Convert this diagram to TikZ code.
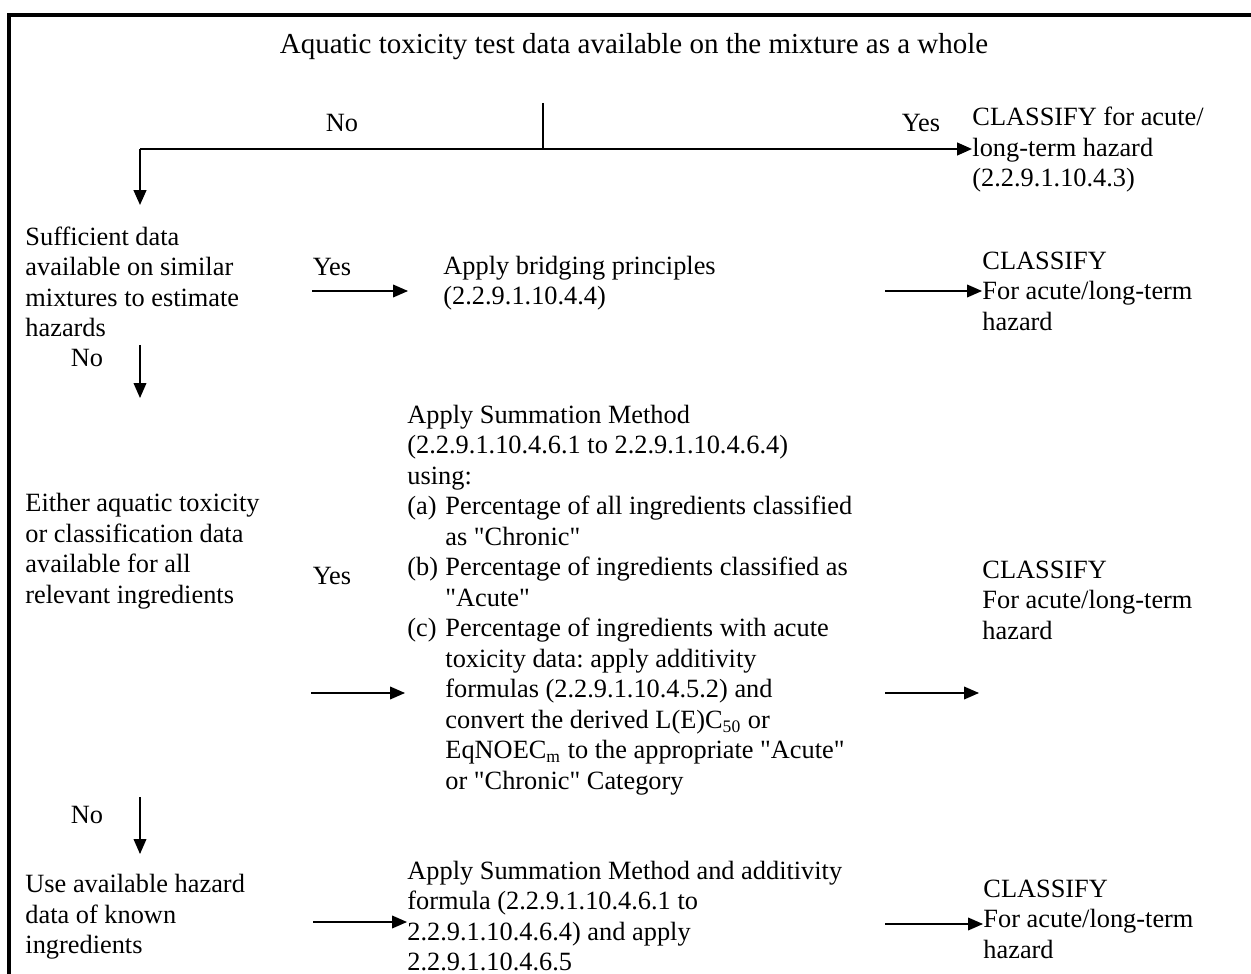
\documentclass[tikz,border=0pt]{standalone}
\usepackage{fontspec}
\setmainfont{Liberation Serif}
\usetikzlibrary{arrows.meta, positioning}

\newcommand{\itemlab}[1]{\makebox[17.3pt][l]{#1}}
\newcommand{\contind}{\hspace*{17.3pt}}
\newcommand{\qq}[1]{\textquotedbl#1\textquotedbl}

\begin{document}
\frenchspacing
\begin{tikzpicture}[x=0.4554pt, y=-0.4554pt,
    font=\fontsize{12pt}{13.9pt}\selectfont,
    txt/.style={inner sep=0pt, align=left, anchor=west},
    word/.style={inner sep=0pt},
    flow/.style={line width=0.6pt, -{Triangle[length=6.8pt, width=5.8pt]}},
    main/.style={line width=0.9pt}]
  \useasboundingbox (0,0) rectangle (1251,974);

  % frame
  \draw[line width=1.4pt] (1251,15) -- (9,15) -- (9,974);

  % test data on the mixture
  \node[word, font=\fontsize{13.2pt}{15pt}\selectfont] (q1) at (634,47)
    {Aquatic toxicity test data available on the mixture as a whole};
  \node[txt] (c1) at (972,150) {CLASSIFY for acute/\\long-term hazard\\(2.2.9.1.10.4.3)};
  \node[word] (no1) at (342,123) {No};
  \node[word] (yes1) at (921,123) {Yes};

  % similar mixtures
  \node[txt] (q2) at (25,282) {Sufficient data\\available on similar\\mixtures to estimate\\hazards};
  \node[word] (yes2) at (332,267) {Yes};
  \node[txt] (bridge) at (443,283) {Apply bridging principles\\(2.2.9.1.10.4.4)};
  \node[txt] (c2) at (982,291) {CLASSIFY\\For acute/long-term\\hazard};
  \node[word] (no2) at (87,358) {No};

  % all relevant ingredients
  \node[txt] (q3) at (25,551) {Either aquatic toxicity\\or classification data\\available for all\\relevant ingredients};
  \node[word] (yes3) at (332,576) {Yes};
  \node[txt] (sum) at (407,600) {Apply Summation Method\\
    (2.2.9.1.10.4.6.1 to 2.2.9.1.10.4.6.4)\\
    using:\\
    \itemlab{(a)}Percentage of all ingredients classified\\
    \contind as \qq{Chronic}\\
    \itemlab{(b)}Percentage of ingredients classified as\\
    \contind \qq{Acute}\\
    \itemlab{(c)}Percentage of ingredients with acute\\
    \contind toxicity data: apply additivity\\
    \contind formulas (2.2.9.1.10.4.5.2) and\\
    \contind convert the derived L(E)C\textsubscript{50} or\\
    \contind EqNOEC\textsubscript{m} to the appropriate \qq{Acute}\\
    \contind or \qq{Chronic} Category};
  \node[txt] (c3) at (982,600) {CLASSIFY\\For acute/long-term\\hazard};
  \node[word] (no3) at (87,815) {No};

  % known ingredients
  \node[txt] (q4) at (25,917) {Use available hazard\\data of known\\ingredients};
  \node[txt] (sum2) at (407,916) {Apply Summation Method and additivity\\formula (2.2.9.1.10.4.6.1 to\\2.2.9.1.10.4.6.4) and apply\\2.2.9.1.10.4.6.5};
  \node[txt] (c4) at (983,919) {CLASSIFY\\For acute/long-term\\hazard};

  % connector ends
  \coordinate (top) at (543,103);
  \coordinate (split) at (543,149);
  \coordinate (turn) at (140,149);
  \coordinate (d1) at (140,205);
  \coordinate (s2) at (312,291);
  \coordinate (e2) at (408,291);
  \coordinate (t2) at (885,291);
  \coordinate (d2a) at (140,345);
  \coordinate (d2b) at (140,398);
  \coordinate (s3) at (311,693);
  \coordinate (e3) at (405,693);
  \coordinate (t3a) at (885,693);
  \coordinate (t3b) at (979,693);
  \coordinate (d3a) at (140,797);
  \coordinate (d3b) at (140,854);
  \coordinate (s4) at (313,922);
  \coordinate (t4) at (885,924);

  \draw[main] (top) -- (split);
  \draw[main, flow, line width=0.9pt] (turn) -- (turn -| c1.west);
  \draw[main, flow, line width=0.9pt] (turn) -- (d1);
  \foreach \a/\b in {s2/e2, t2/t2 -| c2.west, d2a/d2b, s3/e3, t3a/t3b,
                     d3a/d3b, s4/s4 -| sum2.west, t4/t4 -| c4.west}
    \draw[flow] (\a) -- (\b);
\end{tikzpicture}
\end{document}
